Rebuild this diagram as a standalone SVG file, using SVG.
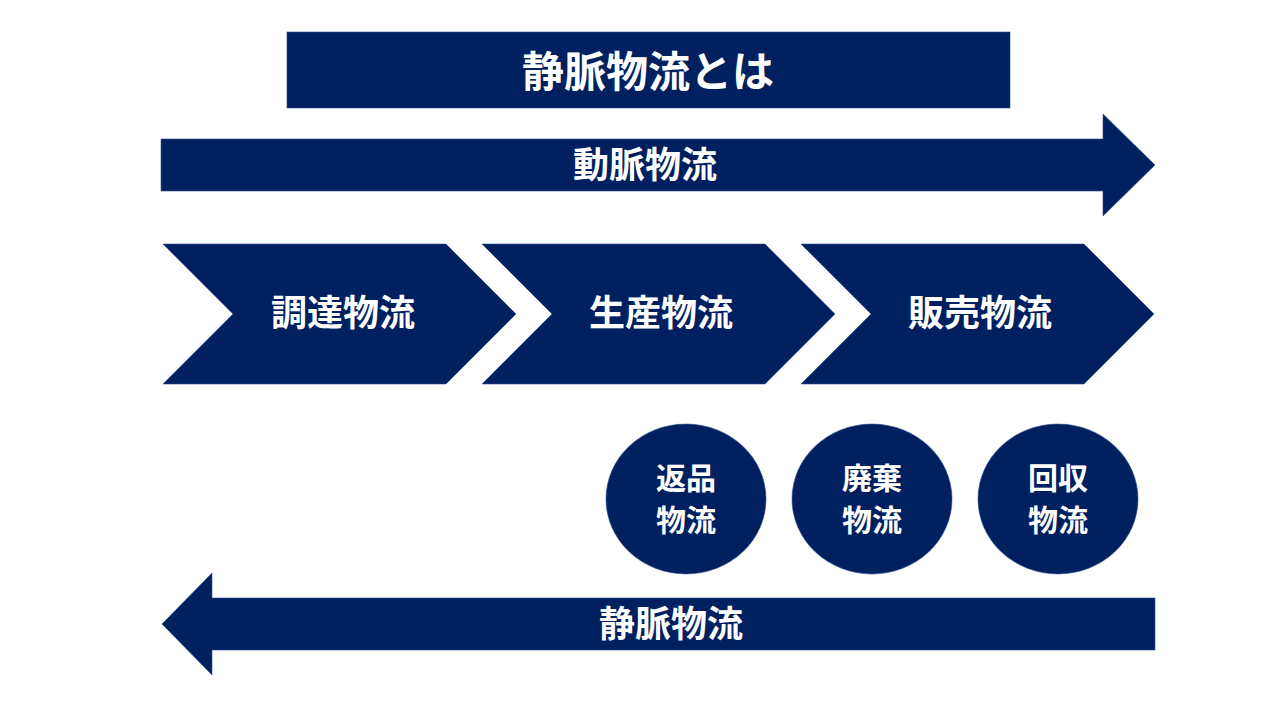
<svg xmlns="http://www.w3.org/2000/svg" width="1280" height="720" viewBox="0 0 1280 720">
<style>
.shape{fill:#002060;stroke:#2F528F;stroke-width:0.6}
.t{fill:#ffffff;font-family:"Noto Sans CJK JP","Noto Sans",sans-serif;font-weight:700;text-anchor:middle;dominant-baseline:central}
.t42{font-size:42px}
.t36{font-size:36px}
.t30{font-size:30px}
</style>
<rect width="1280" height="720" fill="#ffffff"/>
<g id="title">
<rect class="shape" x="287" y="32" width="723" height="76"/>
<text class="t t42" x="648" y="68">静脈物流とは</text>
</g>
<g id="connectors">
<g id="arterial">
<polygon class="shape" points="161,139 1103,139 1103,114 1155,165 1103,216 1103,191 161,191"/>
<text class="t t36" x="645" y="162">動脈物流</text>
</g>
<g id="venous">
<polygon class="shape" points="1155,598 212,598 212,573 162,624 212,675 212,650 1155,650"/>
<text class="t t36" x="671" y="621">静脈物流</text>
</g>
</g>
<g id="procurement">
<polygon class="shape" points="163,244 446,244 516,314 446,384 163,384 233,314"/>
<text class="t t36" x="343" y="310">調達物流</text>
</g>
<g id="production">
<polygon class="shape" points="482,244 765,244 835,314 765,384 482,384 552,314"/>
<text class="t t36" x="661" y="310">生産物流</text>
</g>
<g id="sales">
<polygon class="shape" points="801,244 1084,244 1154,314 1084,384 801,384 871,314"/>
<text class="t t36" x="980" y="310">販売物流</text>
</g>
<g id="returns">
<ellipse class="shape" cx="686" cy="499" rx="80" ry="75"/>
<text class="t t30" x="686" y="476">返品</text>
<text class="t t30" x="686" y="518">物流</text>
</g>
<g id="disposal">
<ellipse class="shape" cx="872" cy="499" rx="80" ry="75"/>
<text class="t t30" x="872" y="476">廃棄</text>
<text class="t t30" x="872" y="518">物流</text>
</g>
<g id="collection">
<ellipse class="shape" cx="1058" cy="499" rx="80" ry="75"/>
<text class="t t30" x="1058" y="476">回収</text>
<text class="t t30" x="1058" y="518">物流</text>
</g>
</svg>
